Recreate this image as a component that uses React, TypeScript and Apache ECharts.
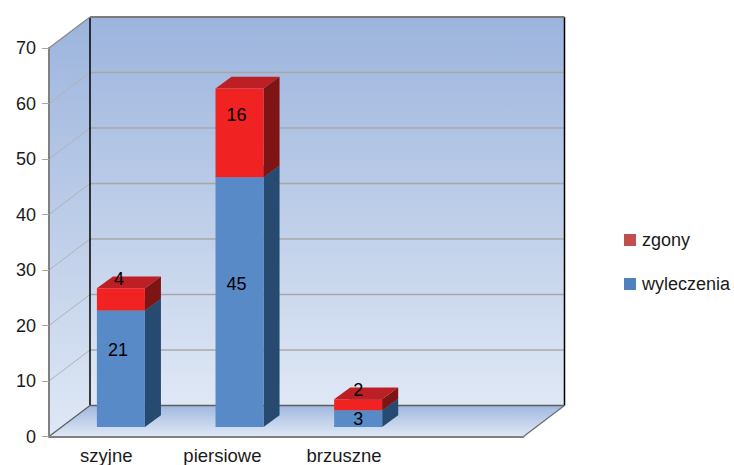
import React, { useEffect, useRef } from "react";
import * as echarts from "echarts";

const categories = ["szyjne", "piersiowe", "brzuszne", ""];
const wyleczenia = [21, 45, 3];
const zgony = [4, 16, 2];
const yTicks = [10, 20, 30, 40, 50, 60, 70];

// Oblique projection used by the chart box and the columns.
const WALL_DX = 41;
const WALL_DY = -31;
const BAR_INSET_DX = 12.6;
const BAR_INSET_DY = -9.5;
const BAR_DEPTH_DX = 16;
const BAR_DEPTH_DY = -11.7;
const BAR_SHARE = 0.405;

// Hand-placed data label nudges, per series and category.
const blueNudge = [[-3, -19], [-3, -18], [0, 0]];
const redNudge = [[-2, -20], [-3, -18], [0, -15]];
// Right padding that pulls each category label slightly left of its band centre.
const categoryPad = [4, 9, 3, 0];

const LABEL_FONT = '18px "Liberation Sans", Arial, sans-serif';
const TEXT = "#1a1a1a";

const vGrad = (stops: [number, string][]) =>
  new echarts.graphic.LinearGradient(0, 0, 0, 1, stops.map(([offset, color]) => ({ offset, color })));

function renderBox(params: any, api: any) {
  const { x, y, width, height } = params.coordSys;
  const r = x + width;
  const b = y + height;
  const bx = x + WALL_DX;
  const by = y + WALL_DY;
  const bb = b + WALL_DY;
  const br = r + WALL_DX;
  const wallFill = vGrad([[0, "#9CB4DD"], [1, "#DFE8F5"]]);
  const children: any[] = [
    { type: "polygon", shape: { points: [[x, y], [bx, by], [bx, bb], [x, b]] }, style: { fill: wallFill } },
    { type: "rect", shape: { x: bx, y: by, width: br - bx, height: bb - by }, style: { fill: wallFill } },
    { type: "polygon", shape: { points: [[bx, bb], [br, bb], [r, b], [x, b]] }, style: { fill: vGrad([[0, "#A0B8DF"], [1, "#E0E8F5"]]) } },
  ];
  yTicks.slice(0, -1).forEach((t) => {
    const p = api.coord([0, t]);
    const gy = p[1];
    children.push(
      { type: "line", shape: { x1: x, y1: gy, x2: bx, y2: gy + WALL_DY }, style: { stroke: "#B2B2B2", lineWidth: 1 } },
      { type: "line", shape: { x1: bx, y1: gy + WALL_DY, x2: br, y2: gy + WALL_DY }, style: { stroke: "#A8A8A8", lineWidth: 1.3 } },
    );
  });
  children.push(
    { type: "line", shape: { x1: bx, y1: by, x2: bx, y2: bb }, style: { stroke: "#000", lineWidth: 1.5 } },
    { type: "line", shape: { x1: br, y1: by, x2: br, y2: bb }, style: { stroke: "#000", lineWidth: 1.5 } },
    { type: "line", shape: { x1: bx, y1: by, x2: br, y2: by }, style: { stroke: "#7B7B7B", lineWidth: 1.8 } },
    { type: "line", shape: { x1: x, y1: y, x2: bx, y2: by }, style: { stroke: "#8A8A8A", lineWidth: 1.3 } },
    { type: "line", shape: { x1: bx, y1: bb, x2: br, y2: bb }, style: { stroke: "#5F5F5F", lineWidth: 1.3 } },
    { type: "line", shape: { x1: x, y1: b, x2: bx, y2: bb }, style: { stroke: "#5F5F5F", lineWidth: 1.3 } },
    { type: "line", shape: { x1: r, y1: b, x2: br, y2: bb }, style: { stroke: "#6F6F6F", lineWidth: 1.3 } },
  );
  return { type: "group", children };
}

const renderSegment = (front: string, side: string, top: string, nudge: number[][]) => (params: any, api: any) => {
  const cat = api.value(0);
  const value = api.value(1);
  const base = api.value(2);
  const low = api.coord([cat, base]);
  const high = api.coord([cat, base + value]);
  const w = api.size([1, 0])[0] * BAR_SHARE;
  const l = low[0] + BAR_INSET_DX - w / 2;
  const r = l + w;
  const yb = low[1] + BAR_INSET_DY;
  const yt = high[1] + BAR_INSET_DY;
  const dx = BAR_DEPTH_DX;
  const dy = BAR_DEPTH_DY;
  const [nx, ny] = nudge[params.dataIndex];
  return {
    type: "group",
    children: [
      { type: "polygon", shape: { points: [[l, yt], [l + dx, yt + dy], [r + dx, yt + dy], [r, yt]] }, style: { fill: top } },
      { type: "polygon", shape: { points: [[r, yb], [r + dx, yb + dy], [r + dx, yt + dy], [r, yt]] }, style: { fill: side } },
      { type: "rect", shape: { x: l, y: yt, width: w, height: yb - yt }, style: { fill: front } },
      {
        type: "text",
        x: (l + r) / 2 + nx,
        y: (yt + yb) / 2 + ny,
        style: { text: String(value), font: LABEL_FONT, fill: "#000", align: "center", verticalAlign: "middle" },
      },
    ],
  };
};

export default function App() {
  const ref = useRef<HTMLDivElement>(null);

  useEffect(() => {
    document.body.style.margin = "0";
    const chart = echarts.init(ref.current!, null, { renderer: "svg" });
    chart.setOption({
      animation: false,
      backgroundColor: "#fff",
      grid: { left: 49, right: 210.5, top: 48, bottom: 28.5, containLabel: false },
      xAxis: {
        type: "category",
        data: categories.map((value, i) => ({ value, textStyle: { padding: [0, categoryPad[i], 0, 0] } })),
        z: 5,
        axisLine: { lineStyle: { color: "#808080", width: 2 } },
        axisTick: { length: 7, lineStyle: { color: "#A6A6A6", width: 1 } },
        axisLabel: { color: TEXT, fontFamily: "Liberation Sans", fontSize: 18.5, margin: 9 },
        splitLine: { show: false },
      },
      yAxis: {
        type: "value",
        min: 0,
        max: 70,
        interval: 10,
        z: 5,
        axisLine: { show: true, lineStyle: { color: "#808080", width: 2 } },
        axisTick: { show: true, length: 7, lineStyle: { color: "#A6A6A6", width: 1 } },
        axisLabel: { color: TEXT, fontFamily: "Liberation Sans", fontSize: 18, margin: 13, padding: [0, 0, 2, 0] },
        splitLine: { show: false },
      },
      legend: {
        orient: "vertical",
        left: 619,
        top: 226,
        itemWidth: 12,
        itemHeight: 12,
        itemGap: 26,
        icon: "rect",
        data: ["zgony", "wyleczenia"],
        textStyle: { color: TEXT, fontFamily: "Liberation Sans", fontSize: 18, padding: [0, 0, 0, 1] },
      },
      tooltip: { show: false },
      series: [
        { type: "custom", z: 1, silent: true, clip: false, data: [[0, 0]], renderItem: renderBox },
        {
          type: "custom",
          name: "wyleczenia",
          z: 2,
          clip: false,
          itemStyle: { color: "#4F81BD" },
          data: wyleczenia.map((v, i) => [i, v, 0]),
          encode: { x: 0, y: 1 },
          renderItem: renderSegment("#588AC8", "#264A70", "#3F6CA5", blueNudge),
        },
        {
          type: "custom",
          name: "zgony",
          z: 3,
          clip: false,
          itemStyle: { color: "#C0504D" },
          data: zgony.map((v, i) => [i, v, wyleczenia[i]]),
          encode: { x: 0, y: 1 },
          renderItem: renderSegment("#F02222", "#7F1414", "#BC1F24", redNudge),
        },
      ],
    });
    return () => chart.dispose();
  }, []);

  return <div ref={ref} style={{ width: 734, height: 465 }} />;
}
